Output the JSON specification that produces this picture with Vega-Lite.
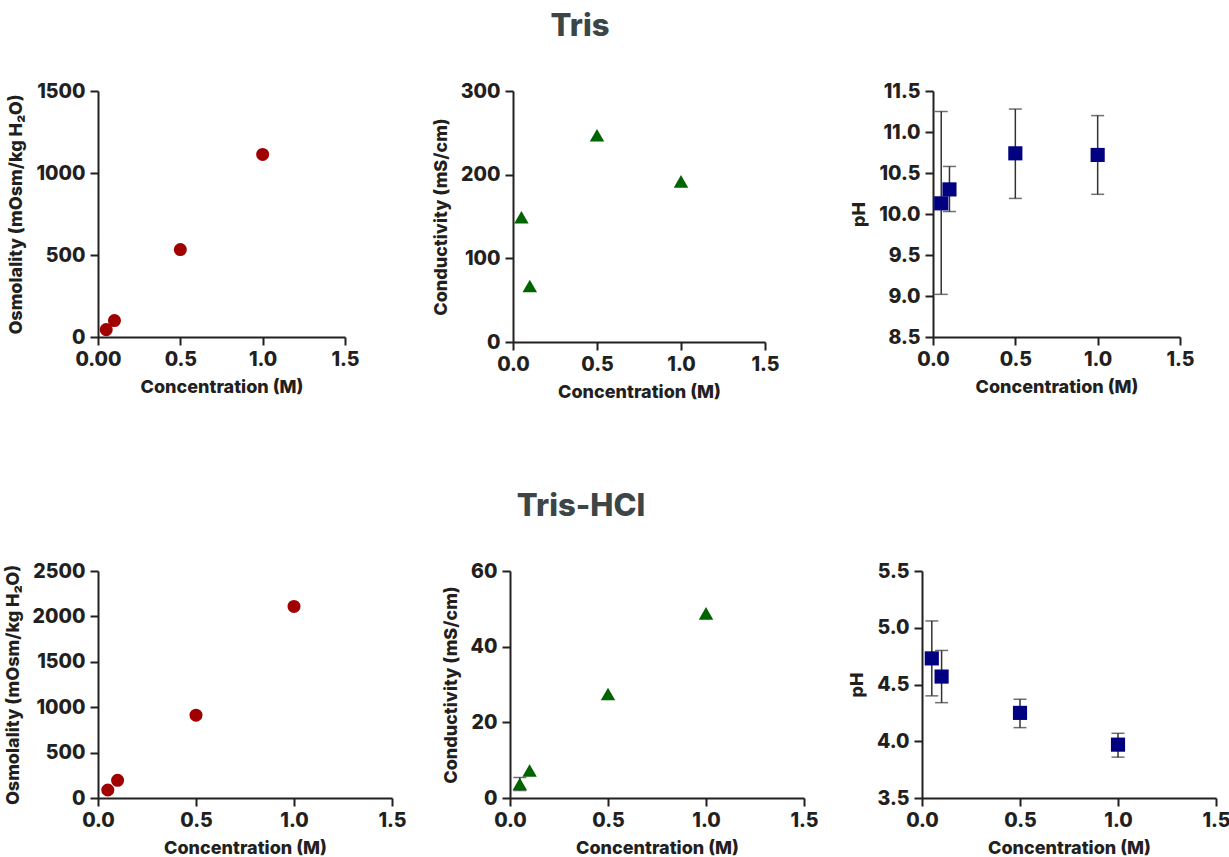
{
  "$schema": "https://vega.github.io/schema/vega-lite/v6.json",
  "background": "white",
  "padding": {"left": 4, "top": 11, "right": 2, "bottom": 3},
  "config": {
    "font": "Inter",
    "view": {"stroke": null},
    "axis": {
      "grid": false,
      "domainColor": "#231f20",
      "domainWidth": 2,
      "tickColor": "#231f20",
      "tickWidth": 2,
      "tickSize": 8,
      "labelFont": "Inter",
      "labelFontSize": 19.5,
      "labelFontWeight": 800,
      "labelColor": "#231f20",
      "titleFont": "Inter",
      "titleFontSize": 18,
      "titleFontWeight": 800,
      "titleColor": "#231f20",
      "labelFlush": false,
      "labelOverlap": false,
      "labelPadding": 5,
      "titlePadding": 10
    },
    "title": {"font": "Inter", "fontSize": 31, "fontWeight": 800, "color": "#3d4646", "anchor": "middle", "offset": 38}
  },
  "datasets": {
    "tris_osm": [
      {"conc": 0.05, "osm": 45},
      {"conc": 0.1, "osm": 100},
      {"conc": 0.5, "osm": 533},
      {"conc": 1.0, "osm": 1113}
    ],
    "tris_cond": [
      {"conc": 0.05, "cond": 149},
      {"conc": 0.1, "cond": 67},
      {"conc": 0.5, "cond": 247},
      {"conc": 1.0, "cond": 192}
    ],
    "tris_ph": [
      {"conc": 0.05, "ph": 10.13, "lo": 9.02, "hi": 11.25},
      {"conc": 0.1, "ph": 10.3, "lo": 10.03, "hi": 10.58},
      {"conc": 0.5, "ph": 10.74, "lo": 10.19, "hi": 11.28},
      {"conc": 1.0, "ph": 10.72, "lo": 10.24, "hi": 11.2}
    ],
    "hcl_osm": [
      {"conc": 0.05, "osm": 88},
      {"conc": 0.1, "osm": 195},
      {"conc": 0.5, "osm": 912},
      {"conc": 1.0, "osm": 2110}
    ],
    "hcl_cond": [
      {"conc": 0.05, "cond": 3.7, "lo": 2.0, "hi": 5.4},
      {"conc": 0.1, "cond": 7.25, "lo": null, "hi": null},
      {"conc": 0.5, "cond": 27.5, "lo": null, "hi": null},
      {"conc": 1.0, "cond": 48.8, "lo": null, "hi": null}
    ],
    "hcl_ph": [
      {"conc": 0.05, "ph": 4.73, "lo": 4.4, "hi": 5.06},
      {"conc": 0.1, "ph": 4.57, "lo": 4.34, "hi": 4.8},
      {"conc": 0.5, "ph": 4.25, "lo": 4.12, "hi": 4.37},
      {"conc": 1.0, "ph": 3.97, "lo": 3.86, "hi": 4.07}
    ]
  },
  "spacing": 89,
  "vconcat": [
    {
      "title": {"text": "Tris", "dx": -21},
      "bounds": "flush",
      "spacing": 168,
      "hconcat": [
        {
          "width": 247, "height": 246,
          "data": {"name": "tris_osm"},
          "mark": {"type": "point", "shape": "circle", "filled": true, "size": 170, "color": "#a00000", "opacity": 1},
          "encoding": {
            "x": {"field": "conc", "type": "quantitative", "scale": {"domain": [0, 1.5], "nice": false}, "axis": {"values": [0, 0.5, 1, 1.5], "labelExpr": "datum.value === 0 ? '0.00' : format(datum.value, '.1f')", "title": "Concentration (M)"}},
            "y": {"field": "osm", "type": "quantitative", "scale": {"domain": [0, 1500], "nice": false}, "axis": {"values": [0, 500, 1000, 1500], "format": "d", "title": "Osmolality (mOsm/kg H₂O)"}}
          }
        },
        {
          "width": 252, "height": 251,
          "data": {"name": "tris_cond"},
          "mark": {"type": "point", "shape": "triangle-up", "filled": true, "size": 210, "color": "#006400", "opacity": 1},
          "encoding": {
            "x": {"field": "conc", "type": "quantitative", "scale": {"domain": [0, 1.5], "nice": false}, "axis": {"values": [0, 0.5, 1, 1.5], "format": ".1f", "title": "Concentration (M)"}},
            "y": {"field": "cond", "type": "quantitative", "scale": {"domain": [0, 300], "nice": false}, "axis": {"values": [0, 100, 200, 300], "format": "d", "title": "Conductivity (mS/cm)"}}
          }
        },
        {
          "width": 247, "height": 246,
          "data": {"name": "tris_ph"},
          "layer": [
            {
              "mark": {"type": "errorbar", "color": "#333333", "rule": {"strokeWidth": 1.5}, "ticks": {"size": 13, "thickness": 1.5, "color": "#333333"}},
              "encoding": {
                "x": {"field": "conc", "type": "quantitative"},
                "y": {"field": "lo", "type": "quantitative"},
                "y2": {"field": "hi"}
              }
            },
            {
              "mark": {"type": "point", "shape": "square", "filled": true, "size": 200, "color": "#000080", "opacity": 1},
              "encoding": {
                "x": {"field": "conc", "type": "quantitative"},
                "y": {"field": "ph", "type": "quantitative"}
              }
            }
          ],
          "encoding": {
            "x": {"field": "conc", "type": "quantitative", "scale": {"domain": [0, 1.5], "nice": false}, "axis": {"values": [0, 0.5, 1, 1.5], "format": ".1f", "title": "Concentration (M)"}},
            "y": {"field": "ph", "type": "quantitative", "scale": {"domain": [8.5, 11.5], "nice": false, "zero": false}, "axis": {"values": [8.5, 9, 9.5, 10, 10.5, 11, 11.5], "format": ".1f", "title": "pH"}}
          }
        }
      ]
    },
    {
      "title": {"text": "Tris-HCl", "dx": -36},
      "bounds": "flush",
      "spacing": 118,
      "hconcat": [
        {
          "width": 294, "height": 227,
          "data": {"name": "hcl_osm"},
          "mark": {"type": "point", "shape": "circle", "filled": true, "size": 170, "color": "#a00000", "opacity": 1},
          "encoding": {
            "x": {"field": "conc", "type": "quantitative", "scale": {"domain": [0, 1.5], "nice": false}, "axis": {"values": [0, 0.5, 1, 1.5], "format": ".1f", "title": "Concentration (M)"}},
            "y": {"field": "osm", "type": "quantitative", "scale": {"domain": [0, 2500], "nice": false}, "axis": {"values": [0, 500, 1000, 1500, 2000, 2500], "format": "d", "title": "Osmolality (mOsm/kg H₂O)"}}
          }
        },
        {
          "width": 294, "height": 227,
          "data": {"name": "hcl_cond"},
          "layer": [
            {
              "transform": [{"filter": "isValid(datum.hi)"}],
              "mark": {"type": "errorbar", "color": "#333333", "rule": {"strokeWidth": 1.5}, "ticks": {"size": 13, "thickness": 1.5, "color": "#333333"}},
              "encoding": {
                "x": {"field": "conc", "type": "quantitative"},
                "y": {"field": "lo", "type": "quantitative"},
                "y2": {"field": "hi"}
              }
            },
            {
              "mark": {"type": "point", "shape": "triangle-up", "filled": true, "size": 210, "color": "#006400", "opacity": 1},
              "encoding": {
                "x": {"field": "conc", "type": "quantitative"},
                "y": {"field": "cond", "type": "quantitative"}
              }
            }
          ],
          "encoding": {
            "x": {"field": "conc", "type": "quantitative", "scale": {"domain": [0, 1.5], "nice": false}, "axis": {"values": [0, 0.5, 1, 1.5], "format": ".1f", "title": "Concentration (M)"}},
            "y": {"field": "cond", "type": "quantitative", "scale": {"domain": [0, 60], "nice": false}, "axis": {"values": [0, 20, 40, 60], "format": "d", "title": "Conductivity (mS/cm)"}}
          }
        },
        {
          "width": 294, "height": 227,
          "data": {"name": "hcl_ph"},
          "layer": [
            {
              "mark": {"type": "errorbar", "color": "#333333", "rule": {"strokeWidth": 1.5}, "ticks": {"size": 13, "thickness": 1.5, "color": "#333333"}},
              "encoding": {
                "x": {"field": "conc", "type": "quantitative"},
                "y": {"field": "lo", "type": "quantitative"},
                "y2": {"field": "hi"}
              }
            },
            {
              "mark": {"type": "point", "shape": "square", "filled": true, "size": 200, "color": "#000080", "opacity": 1},
              "encoding": {
                "x": {"field": "conc", "type": "quantitative"},
                "y": {"field": "ph", "type": "quantitative"}
              }
            }
          ],
          "encoding": {
            "x": {"field": "conc", "type": "quantitative", "scale": {"domain": [0, 1.5], "nice": false}, "axis": {"values": [0, 0.5, 1, 1.5], "format": ".1f", "title": "Concentration (M)"}},
            "y": {"field": "ph", "type": "quantitative", "scale": {"domain": [3.5, 5.5], "nice": false, "zero": false}, "axis": {"values": [3.5, 4, 4.5, 5, 5.5], "format": ".1f", "title": "pH"}}
          }
        }
      ]
    }
  ]
}
